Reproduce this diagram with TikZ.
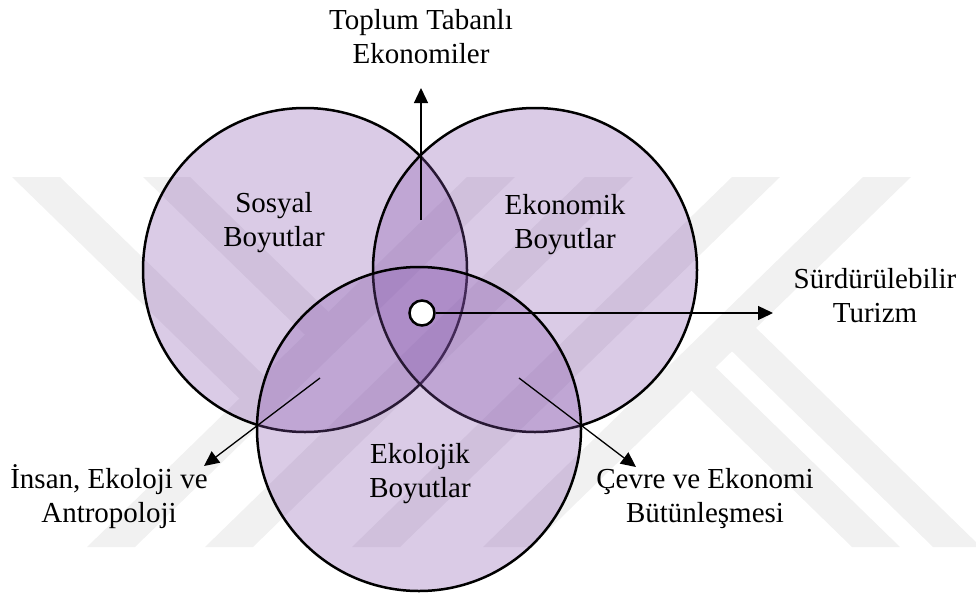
\documentclass[tikz,border=0pt]{standalone}
\usepackage{fontspec}
\setmainfont{Liberation Serif}
\usetikzlibrary{arrows.meta}
\definecolor{vennc}{RGB}{132,82,172}
\definecolor{wmc}{RGB}{241,241,241}
\begin{document}
\begin{tikzpicture}[x=1pt,y=-1pt,
  venn/.style={circle, draw=black, line width=2.5pt, fill=vennc, fill opacity=0.3, draw opacity=1, inner sep=0pt, minimum size=324pt},
  lbl/.style={align=center, font=\fontsize{29}{34}\selectfont, anchor=base, inner sep=0pt},
  arr/.style={-{Triangle[length=15pt,width=14pt]}, line width=1.3pt},
  wmk/.style={fill=wmc, draw=none}]
\useasboundingbox (0,0) rectangle (976,597);
% watermark
\fill[wmk] (87,547) -- (135,547) -- (515,177) -- (467,177) -- cycle;
\fill[wmk] (205,547) -- (253,547) -- (633,177) -- (585,177) -- cycle;
\fill[wmk] (352,547) -- (400,547) -- (780,177) -- (732,177) -- cycle;
\fill[wmk] (483,547) -- (531,547) -- (911,177) -- (863,177) -- cycle;
\fill[wmk] (12,177) -- (60,177) -- (268.5,380) -- (244.5,403.5) -- cycle;
\fill[wmk] (143,177) -- (190,177) -- (333.4,316.7) -- (310,339.6) -- cycle;
\fill[wmk] (728,347.4) -- (752,324) -- (981,547) -- (933,547) -- cycle;
\fill[wmk] (687.5,386.8) -- (711.5,363.4) -- (900,547) -- (852,547) -- cycle;
% circles
\node[venn] (soc) at (305,270) {};
\node[venn] (eko) at (535,270) {};
\node[venn] (ekl) at (419,429) {};
% arrows
\coordinate (topS) at (421,220);
\coordinate (topT) at (421,88);
\coordinate (rT) at (773,313);
\coordinate (lS) at (320,378);
\coordinate (lT) at (204,466);
\coordinate (dS) at (519,378);
\coordinate (dT) at (636,467);
\node[circle, draw=black, fill=white, line width=2.5pt, minimum size=25pt, inner sep=0pt] (core) at (422,313) {};
\draw[arr] (topS) -- (topT);
\draw[arr] (core.east) -- (rT);
\draw[arr] (lS) -- (lT);
\draw[arr] (dS) -- (dT);
% labels (anchor = baseline of the last line)
\node[lbl] (ttop) at (421,63) {Toplum Tabanlı\\Ekonomiler};
\node[lbl] (tsos) at (274,246) {Sosyal\\Boyutlar};
\node[lbl] (teko) at (565,248) {Ekonomik\\Boyutlar};
\node[lbl] (tekl) at (420,497) {Ekolojik\\Boyutlar};
\node[lbl] (tsur) at (875,322) {Sürdürülebilir\\Turizm};
\node[lbl] (tins) at (109,522) {İnsan, Ekoloji ve\\Antropoloji};
\node[lbl] (tcev) at (705,522) {Çevre ve Ekonomi\\Bütünleşmesi};
\end{tikzpicture}
\end{document}
